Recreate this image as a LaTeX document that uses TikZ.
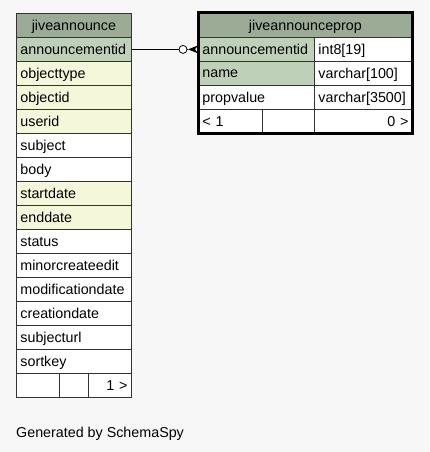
\documentclass[tikz,border=0pt]{standalone}
\usepackage{fontspec}
\setmainfont{Liberation Sans}
\usepackage{tikz}
\usetikzlibrary{positioning,calc}

\definecolor{pagebg}{HTML}{F7F7F7}
\definecolor{headbg}{HTML}{9BAB96}
\definecolor{keybg}{HTML}{BED1B8}
\definecolor{idxbg}{HTML}{F4F7DA}
\definecolor{plainbg}{HTML}{FFFFFF}

\tikzset{
  cell/.style={draw=black!80,line width=0.8pt,anchor=north west,minimum height=24pt,
    inner sep=0pt,text depth=0pt,font=\fontsize{14.3}{16}\selectfont},
  leftcell/.style={cell,text width=#1-8pt,align=left,inner xsep=4pt},
  rightcell/.style={cell,text width=#1-8pt,align=right,inner xsep=4pt},
  headcell/.style={cell,fill=headbg,minimum width=#1,align=center},
}

\begin{document}
\begin{tikzpicture}[x=1pt,y=-1pt]
  % page ----------------------------------------------------------------------
  \fill[pagebg] (0,0) rectangle (429,452);
  \useasboundingbox (0,0) rectangle (429,452);

  %----------------------------------------------------------------------------%
  %  jiveannounce  -------------------------------------------------------------%
  \node[headcell=115pt] (ja-head) at (16,13) {jiveannounce};
  \foreach \colname/\bg [count=\i] in {announcementid/keybg, objecttype/idxbg,
      objectid/idxbg, userid/idxbg, subject/plainbg, body/plainbg,
      startdate/idxbg, enddate/idxbg, status/plainbg, minorcreateedit/plainbg,
      modificationdate/plainbg, creationdate/plainbg, subjecturl/plainbg,
      sortkey/plainbg}
    \node[leftcell=115pt,fill=\bg] (ja-\i) at (16,13+24*\i) {\colname};

  % footer
  \node[leftcell=42.7pt,fill=plainbg] (ja-f1) at (16,373) {};
  \node[leftcell=29.3pt,fill=plainbg] (ja-f2) at (58.7,373) {};
  \node[rightcell=43pt,fill=plainbg] (ja-f3) at (88,373) {1 >};

  %----------------------------------------------------------------------------%
  %  jiveannounceprop  ---------------------------------------------------------%
  \node[headcell=214pt] (jp-head) at (198,13) {jiveannounceprop};
  \foreach \colname/\coltype/\bg [count=\i] in {announcementid/int8[19]/keybg,
      name/varchar[100]/keybg, propvalue/varchar[3500]/plainbg}
  {
    \node[leftcell=116pt,fill=\bg] (jp-\i) at (198,13+24*\i) {\colname};
    \node[leftcell=98pt,fill=plainbg] (jp-t\i) at (314,13+24*\i) {\coltype};
  }

  % footer
  \node[leftcell=64pt,fill=plainbg] (jp-f1) at (198,109) {< 1};
  \node[leftcell=52pt,fill=plainbg] (jp-f2) at (262,109) {};
  \node[rightcell=98pt,fill=plainbg] (jp-f3) at (314,109) {0 >};

  % thick frame
  \draw[line width=3pt] (jp-head.north west) rectangle (jp-f3.south east);

  %----------------------------------------------------------------------------%
  %  relation  -----------------------------------------------------------------%
  \coordinate (foot) at ($(jp-1.west)+(-10,0)$);
  \node[draw,circle,fill=white,inner sep=0pt,minimum size=8pt,line width=0.8pt]
        (opt) at ($(jp-1.west)+(-15,0)$) {};
  \draw[line width=0.8pt] (ja-1.east) -- (opt.west);
  \draw[line width=0.8pt] (opt.east) -- (foot);
  \fill (foot) -- ($(jp-1.west)+(0,-4)$) -- ($(jp-1.west)+(-3,0)$)
        -- ($(jp-1.west)+(0,4)$) -- cycle;

  %----------------------------------------------------------------------------%
  \node[anchor=base west,inner sep=0pt,font=\fontsize{14.3}{16}\selectfont]
        (credit) at (16,437) {Generated by SchemaSpy};
\end{tikzpicture}
\end{document}
